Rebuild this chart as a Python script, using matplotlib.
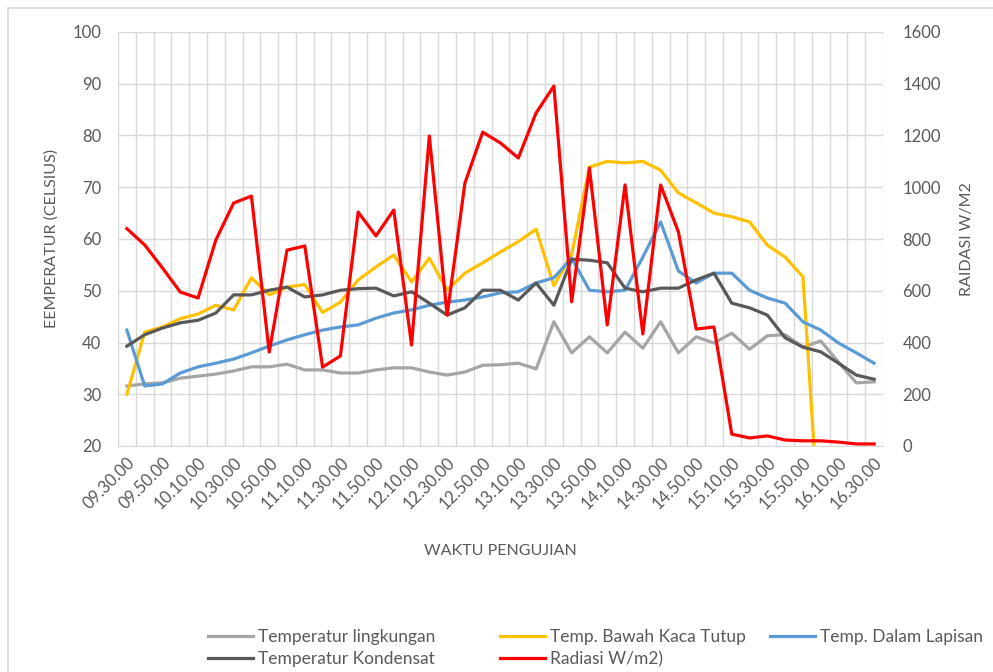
import numpy as np
import matplotlib
matplotlib.use("Agg")
import matplotlib.pyplot as plt
from matplotlib.patches import Rectangle

plt.rcParams['font.family'] = ['Lato', 'DejaVu Sans']

# time stamps every 10 minutes, 09.30.00 .. 16.30.00
waktu = [f'{h:02d}.{m:02d}.00' for h in range(9, 17) for m in range(0, 60, 10)]
waktu = waktu[3:waktu.index('16.30.00') + 1]

t_lingkungan = [31.6, 32.0, 32.2, 33.1, 33.5, 33.9, 34.5, 35.3, 35.3, 35.8,
                34.7, 34.7, 34.1, 34.1, 34.7, 35.1, 35.1, 34.3, 33.7, 34.3,
                35.6, 35.7, 36.0, 34.9, 44.0, 38.0, 41.1, 38.0, 42.0, 38.9,
                44.0, 38.0, 41.1, 39.9, 41.8, 38.7, 41.3, 41.5, 39.1, 40.3,
                36.2, 32.2, 32.4]
t_bawah_kaca = [30.0, 42.0, 43.0, 44.6, 45.5, 47.2, 46.3, 52.5, 49.2, 50.7,
                51.2, 45.8, 47.8, 52.1, 54.6, 56.9, 51.7, 56.3, 50.1, 53.4,
                55.4, 57.5, 59.5, 61.9, 51.0, 57.0, 73.9, 75.0, 74.7, 75.0,
                73.3, 68.9, 67.0, 65.0, 64.3, 63.3, 58.8, 56.5, 52.7, 0.0,
                0.0, 0.0, 0.0]
t_dalam_lapisan = [42.4, 31.6, 32.0, 34.1, 35.3, 36.0, 36.8, 38.0, 39.3, 40.5,
                   41.5, 42.4, 43.0, 43.4, 44.7, 45.7, 46.3, 47.2, 47.8, 48.2,
                   48.8, 49.6, 49.8, 51.5, 52.5, 56.3, 50.1, 49.8, 50.1, 56.5,
                   63.3, 53.8, 51.5, 53.4, 53.4, 50.1, 48.6, 47.6, 44.0, 42.4,
                   39.9, 38.0, 36.0]
t_kondensat = [39.3, 41.5, 42.8, 43.8, 44.3, 45.7, 49.2, 49.2, 50.1, 50.7,
               48.8, 49.2, 50.1, 50.4, 50.5, 49.0, 49.8, 47.6, 45.3, 46.7,
               50.1, 50.1, 48.2, 51.5, 47.2, 56.1, 55.9, 55.4, 50.5, 49.8,
               50.5, 50.5, 52.1, 53.4, 47.6, 46.7, 45.3, 40.9, 39.1, 38.2,
               36.0, 33.7, 32.9]
radiasi = [840, 777, 688, 595, 572, 796, 939, 966, 363, 757,
           773, 305, 348, 904, 812, 912, 390, 1198, 506, 1016,
           1213, 1171, 1113, 1287, 1391, 557, 1074, 468, 1009, 433,
           1009, 827, 452, 460, 46, 31, 39, 23, 20, 20,
           15, 8, 8]

x = np.arange(len(waktu))
txt = '#595959'

fig = plt.figure(figsize=(9.93, 6.72), dpi=100)
fig.patches.append(Rectangle((8 / 993, -0.1), 1.2, 1 - 8 / 672 + 0.1,
                             transform=fig.transFigure, fill=False,
                             edgecolor='#d9d9d9', linewidth=1.2))
ax = fig.add_axes([118 / 993, 1 - 446 / 672, 765 / 993, 414 / 672])
ax2 = ax.twinx()

l1, = ax.plot(x, t_lingkungan, color='#a5a5a5', lw=2.3, label='Temperatur lingkungan')
l2, = ax.plot(x, t_bawah_kaca, color='#ffc000', lw=2.3, label='Temp. Bawah Kaca Tutup')
l3, = ax.plot(x, t_dalam_lapisan, color='#5b9bd5', lw=2.3, label='Temp. Dalam Lapisan')
l4, = ax.plot(x, t_kondensat, color='#595959', lw=2.3, label='Temperatur Kondensat')
l5, = ax2.plot(x, radiasi, color='#ff0000', lw=2.3, label='Radiasi W/m2)')

ax.set_xlim(-0.5, len(waktu) - 0.5)
ax.set_ylim(20, 100)
ax2.set_ylim(0, 1600)
ax.set_yticks(np.arange(20, 101, 10))
ax2.set_yticks(np.arange(0, 1601, 200))

ax.set_xticks(x[::2])
ax.set_xticklabels(waktu[::2], rotation=45, ha='right', rotation_mode='anchor')
ax.set_xticks(np.arange(-0.5, len(waktu)), minor=True)
ax.grid(True, which='minor', axis='x', color='#d9d9d9', lw=1)
ax.grid(True, which='major', axis='y', color='#d9d9d9', lw=1)
ax.tick_params(which='both', length=0, colors=txt, labelsize=12)
ax.tick_params(axis='x', which='major', pad=6)
ax.tick_params(axis='y', pad=12)
ax2.tick_params(length=0, colors=txt, labelsize=12, pad=14)

for a in (ax, ax2):
    for s in a.spines.values():
        s.set_visible(False)
ax.spines['bottom'].set_visible(True)
ax.spines['bottom'].set_color('#d9d9d9')

ax.set_ylabel('EEMPERATUR (CELSIUS)', color=txt, fontsize=11.5, labelpad=10)
ax2.set_ylabel('RAIDASI W/M2', color=txt, fontsize=11.5, labelpad=14)
ax.set_xlabel('WAKTU PENGUJIAN', color=txt, fontsize=11.5, labelpad=23)

# legend laid out as three columns like the original
cols = [([l1, l4], 208), ([l2, l5], 500), ([l3], 770)]
for handles, px in cols:
    fig.legend(handles, [h.get_label() for h in handles],
               loc='upper left', bbox_to_anchor=(px / 993, 1 - 629 / 672),
               frameon=False, fontsize=12.5, labelcolor=txt, borderpad=0,
               borderaxespad=0, handlelength=2.6, handletextpad=0.3,
               labelspacing=0.35)

fig.savefig('out.png', dpi=100)
